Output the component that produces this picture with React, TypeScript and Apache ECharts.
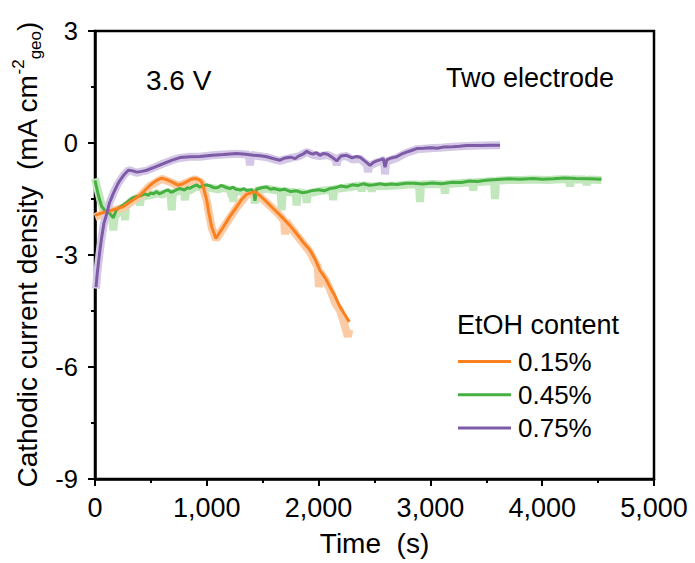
import React, { useEffect, useRef } from "react";
import * as echarts from "echarts";

// Time (s) / current density (mA cm-2) pairs
const orange015Line: [number, number][] = [
  [0, -1.94], [45, -1.89], [150, -1.8], [250, -1.71], [330, -1.55], [402, -1.4], [492, -1.13],
  [550, -1.0], [597, -0.94], [640, -0.98], [686, -1.04], [742, -1.13], [780, -1.1], [820, -1.04],
  [860, -0.97], [894, -0.95], [930, -0.98], [954, -1.04], [975, -1.25], [999, -1.53],
  [1020, -1.9], [1044, -2.25], [1082, -2.56], [1110, -2.42], [1148, -2.25], [1200, -2.0],
  [1267, -1.71], [1310, -1.52], [1357, -1.37], [1431, -1.31], [1480, -1.42], [1536, -1.58],
  [1610, -1.8], [1684, -2.02], [1740, -2.2], [1804, -2.43], [1860, -2.65], [1923, -2.87],
  [1970, -3.12], [2012, -3.41], [2060, -3.62], [2102, -3.86], [2150, -4.12], [2191, -4.39],
  [2235, -4.6], [2275, -4.79],
];
const orange015Raw: [number, number][] = [
  [0, -1.98], [45, -1.93], [150, -1.82], [250, -1.74], [330, -1.56], [402, -1.42], [492, -1.15],
  [597, -0.96], [686, -1.06], [742, -1.15], [820, -1.06], [894, -0.97], [954, -1.06],
  [999, -1.55], [1044, -2.27], [1082, -2.58], [1148, -2.27], [1267, -1.73], [1357, -1.39],
  [1431, -1.33], [1536, -1.6], [1640, -1.9], [1684, -2.05], [1692, -2.08], [1700, -2.45],
  [1710, -2.1], [1804, -2.47], [1923, -2.92], [1960, -3.15], [1993, -3.32], [2003, -3.86],
  [2013, -3.45], [2060, -3.66], [2102, -3.92], [2150, -4.3], [2191, -4.48], [2230, -4.85],
  [2262, -5.19], [2275, -5.0],
];
const green045Line: [number, number][] = [
  [0, -1.0], [30, -1.4], [60, -1.7], [90, -1.82], [130, -1.88], [164, -2.0], [190, -1.8],
  [220, -1.72], [253, -1.66], [290, -1.58], [320, -1.5], [343, -1.46], [370, -1.44],
  [400, -1.42], [430, -1.38], [447, -1.36], [475, -1.4], [500, -1.34], [525, -1.36],
  [552, -1.3], [575, -1.36], [600, -1.33], [630, -1.28], [656, -1.26], [680, -1.32],
  [700, -1.3], [730, -1.25], [760, -1.22], [800, -1.26], [825, -1.2], [850, -1.21],
  [880, -1.16], [910, -1.12], [935, -1.18], [960, -1.16], [995, -1.12], [1029, -1.15],
  [1065, -1.2], [1100, -1.19], [1125, -1.14], [1150, -1.16], [1180, -1.2], [1208, -1.22],
  [1235, -1.18], [1260, -1.24], [1300, -1.26], [1330, -1.22], [1357, -1.27], [1400, -1.25],
  [1420, -1.3], [1431, -1.55], [1445, -1.24], [1490, -1.2], [1536, -1.18], [1570, -1.24],
  [1600, -1.22], [1650, -1.26], [1700, -1.24], [1750, -1.3], [1800, -1.28], [1850, -1.33],
  [1900, -1.31], [1950, -1.27], [2000, -1.25], [2050, -1.28], [2100, -1.22], [2150, -1.2],
  [2200, -1.15], [2250, -1.18], [2300, -1.12], [2350, -1.14], [2400, -1.09], [2450, -1.13],
  [2500, -1.12], [2550, -1.09], [2600, -1.12], [2650, -1.1], [2700, -1.11], [2780, -1.08],
  [2850, -1.08], [2930, -1.1], [3020, -1.07], [3100, -1.09], [3200, -1.05], [3280, -1.06],
  [3350, -1.02], [3420, -1.03], [3500, -1.0], [3600, -0.98], [3700, -0.96], [3800, -0.97],
  [3920, -0.95], [4000, -0.97], [4100, -0.96], [4200, -0.94], [4300, -0.95], [4420, -0.96],
  [4530, -0.97],
];
const green045Raw: [number, number][] = [
  [0, -0.95], [20, -1.2], [50, -1.55], [75, -1.8], [100, -1.9], [130, -1.97], [152, -1.97],
  [164, -2.34], [176, -2.0], [200, -1.88], [230, -1.78], [258, -1.72], [268, -2.07],
  [278, -1.7], [310, -1.6], [343, -1.52], [392, -1.47], [402, -1.67], [412, -1.46],
  [447, -1.42], [500, -1.4], [552, -1.35], [600, -1.38], [656, -1.32], [676, -1.34],
  [686, -1.8], [696, -1.34], [760, -1.27], [795, -1.3], [805, -1.53], [815, -1.27],
  [850, -1.27], [910, -1.16], [960, -1.2], [1029, -1.2], [1100, -1.24], [1150, -1.2],
  [1212, -1.26], [1222, -1.45], [1230, -1.26], [1237, -1.58], [1247, -1.27], [1300, -1.3],
  [1357, -1.32], [1421, -1.32], [1431, -1.62], [1441, -1.28], [1536, -1.22], [1600, -1.26],
  [1660, -1.29], [1670, -1.8], [1680, -1.28], [1750, -1.32], [1794, -1.32], [1804, -1.67],
  [1814, -1.32], [1884, -1.35], [1894, -1.6], [1904, -1.35], [1960, -1.32], [2020, -1.28],
  [2100, -1.26], [2120, -1.25], [2130, -1.53], [2140, -1.24], [2250, -1.19], [2375, -1.14],
  [2385, -1.29], [2395, -1.13], [2465, -1.16], [2475, -1.3], [2485, -1.16], [2600, -1.15],
  [2700, -1.14], [2800, -1.11], [2897, -1.11], [2907, -1.58], [2917, -1.11], [3020, -1.1],
  [3120, -1.11], [3130, -1.35], [3140, -1.1], [3250, -1.08], [3374, -1.05], [3384, -1.27],
  [3394, -1.05], [3500, -1.03], [3568, -1.01], [3578, -1.5], [3588, -1.01], [3700, -0.99],
  [3800, -0.99], [3920, -0.98], [4050, -0.99], [4150, -0.97], [4239, -0.97], [4249, -1.16],
  [4259, -0.97], [4388, -0.98], [4398, -1.12], [4408, -0.98], [4530, -0.99],
];
const purple075Line: [number, number][] = [
  [9, -3.86], [20, -3.5], [30, -3.23], [45, -2.85], [60, -2.52], [80, -2.15], [105, -1.89],
  [130, -1.6], [164, -1.35], [200, -1.12], [224, -1.0], [260, -0.85], [298, -0.73],
  [330, -0.74], [373, -0.78], [420, -0.76], [462, -0.73], [540, -0.64], [611, -0.55],
  [690, -0.46], [760, -0.39], [850, -0.37], [939, -0.36], [1050, -0.33], [1148, -0.31],
  [1267, -0.28], [1350, -0.3], [1416, -0.33], [1480, -0.34], [1536, -0.37], [1600, -0.42],
  [1655, -0.46], [1700, -0.4], [1750, -0.38], [1790, -0.42], [1820, -0.35], [1860, -0.3],
  [1894, -0.22], [1920, -0.27], [1950, -0.3], [1980, -0.26], [2012, -0.33], [2045, -0.28],
  [2080, -0.3], [2120, -0.38], [2162, -0.48], [2200, -0.35], [2251, -0.33], [2300, -0.4],
  [2340, -0.36], [2370, -0.38], [2420, -0.5], [2460, -0.6], [2490, -0.52], [2520, -0.48],
  [2550, -0.45], [2579, -0.42], [2594, -0.65], [2610, -0.45], [2650, -0.4], [2699, -0.37],
  [2740, -0.3], [2780, -0.25], [2830, -0.2], [2877, -0.15], [2940, -0.14], [3000, -0.13],
  [3060, -0.14], [3115, -0.11], [3200, -0.1], [3260, -0.09], [3325, -0.07], [3450, -0.07],
  [3540, -0.06], [3623, -0.06],
];
const purple075Raw: [number, number][] = [
  [9, -3.9], [20, -3.5], [30, -3.23], [45, -2.85], [60, -2.52], [80, -2.15], [105, -1.89],
  [130, -1.6], [164, -1.35], [200, -1.12], [224, -1.0], [260, -0.85], [298, -0.73],
  [330, -0.75], [373, -0.8], [420, -0.76], [462, -0.74], [540, -0.64], [611, -0.55],
  [690, -0.46], [760, -0.4], [850, -0.37], [939, -0.37], [1050, -0.33], [1148, -0.31],
  [1267, -0.29], [1350, -0.31], [1376, -0.31], [1386, -0.6], [1396, -0.32], [1536, -0.38],
  [1600, -0.44], [1655, -0.48], [1750, -0.4], [1820, -0.36], [1894, -0.24], [1950, -0.32],
  [2012, -0.35], [2080, -0.32], [2152, -0.42], [2162, -0.6], [2172, -0.42], [2200, -0.37],
  [2251, -0.35], [2300, -0.44], [2370, -0.42], [2420, -0.55], [2432, -0.56], [2442, -0.78],
  [2452, -0.62], [2520, -0.52], [2579, -0.46], [2586, -0.46], [2594, -0.84], [2604, -0.5],
  [2699, -0.4], [2780, -0.27], [2877, -0.17], [3000, -0.14], [3115, -0.12], [3200, -0.1],
  [3325, -0.08], [3450, -0.07], [3623, -0.06],
];

const seriesNames = ["0.15%", "0.45%", "0.75%"];
const lineColors = ["#FA8020", "#45B140", "#7E5BA6"];
const bandColors = ["#FBCBA6", "#C2E7BD", "#D5C8E6"];

const FONT = "Liberation Sans, Arial, sans-serif";

export default function App() {
  const ref = useRef<HTMLDivElement>(null);
  useEffect(() => {
    if (!ref.current) return;
    const chart = echarts.init(ref.current, undefined, { renderer: "svg" });
    const lines = [orange015Line, green045Line, purple075Line];
    const raws = [orange015Raw, green045Raw, purple075Raw];
    const drawOrder = [1, 0, 2];
    const series: any[] = [];
    drawOrder.forEach((i) => {
      series.push({
        type: "line",
        name: seriesNames[i] + " raw",
        data: raws[i],
        showSymbol: false,
        symbol: "none",
        silent: true,
        lineStyle: { color: bandColors[i], width: 8 },
        itemStyle: { color: bandColors[i] },
        z: 1,
      });
    });
    drawOrder.forEach((i) => {
      series.push({
        type: "line",
        name: seriesNames[i],
        data: lines[i],
        showSymbol: false,
        symbol: "none",
        lineStyle: { color: lineColors[i], width: 3 },
        itemStyle: { color: lineColors[i] },
        z: 2,
      });
    });
    const axisCommon = {
      axisLine: { show: true, onZero: false, lineStyle: { color: "#000", width: 2.5 } },
      axisTick: { show: true, inside: false, length: 7, lineStyle: { color: "#000", width: 2 } },
      minorTick: { show: true, splitNumber: 2, length: 4, lineStyle: { color: "#000", width: 2 } },
      splitLine: { show: false },
      minorSplitLine: { show: false },
    };
    chart.setOption({
      animation: false,
      backgroundColor: "#fff",
      textStyle: { fontFamily: FONT },
      grid: {
        left: 95,
        top: 31,
        right: 41,
        bottom: 84,
        show: true,
        borderColor: "#000",
        borderWidth: 2.5,
        backgroundColor: "transparent",
      },
      xAxis: {
        type: "value",
        min: 0,
        max: 5000,
        interval: 1000,
        name: "Time  (s)",
        nameLocation: "middle",
        nameGap: 50,
        nameTextStyle: { fontSize: 28, color: "#000", fontFamily: FONT },
        axisLabel: {
          fontSize: 27,
          color: "#000",
          margin: 15,
          fontFamily: FONT,
          formatter: (v: number) => v.toLocaleString("en-US"),
        },
        ...axisCommon,
      },
      yAxis: {
        type: "value",
        min: -9,
        max: 3,
        interval: 3,
        name: "{a|Cathodic current density  (mA cm}{sup|-2}{sub|geo}{a|)}",
        nameLocation: "middle",
        nameGap: 41,
        nameRotate: 90,
        nameTextStyle: {
          color: "#000",
          fontFamily: FONT,
          rich: {
            a: { fontSize: 28, color: "#000", fontFamily: FONT, lineHeight: 34 },
            sup: { fontSize: 17, color: "#000", fontFamily: FONT, lineHeight: 17, verticalAlign: "top" },
            sub: { fontSize: 17, color: "#000", fontFamily: FONT, lineHeight: 17, verticalAlign: "bottom" },
          },
        },
        axisLabel: { fontSize: 25.5, color: "#000", margin: 17, fontFamily: FONT },
        ...axisCommon,
      },
      legend: {
        data: seriesNames,
        orient: "vertical",
        left: 458,
        top: 348.5,
        padding: 0,
        icon: "rect",
        itemWidth: 53,
        itemHeight: 3,
        itemGap: 7.3,
        textStyle: { fontSize: 26, color: "#000", fontFamily: FONT, lineHeight: 26, padding: [0, 0, 0, 2] },
        selectedMode: false,
      },
      graphic: [
        {
          type: "text",
          x: 146,
          y: 80,
          style: { text: "3.6 V", fontSize: 28, fill: "#000", fontFamily: FONT, verticalAlign: "middle" },
        },
        {
          type: "text",
          x: 446,
          y: 78,
          style: { text: "Two electrode", fontSize: 27, fill: "#000", fontFamily: FONT, verticalAlign: "middle" },
        },
        {
          type: "text",
          x: 457,
          y: 325,
          style: { text: "EtOH content", fontSize: 27, fill: "#000", fontFamily: FONT, verticalAlign: "middle" },
        },
      ],
      series,
    });
    return () => chart.dispose();
  }, []);
  return (
    <div
      ref={ref}
      style={{ position: "fixed", left: 0, top: 0, width: 695, height: 563, background: "#fff" }}
    />
  );
}
